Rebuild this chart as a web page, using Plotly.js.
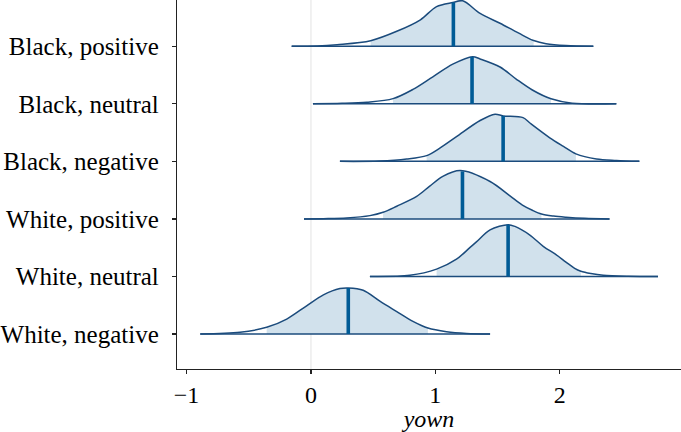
<!DOCTYPE html>
<html>
<head>
<meta charset="utf-8">
<script src="https://cdn.plot.ly/plotly-3.0.1.min.js"></script>
<style>html,body{margin:0;padding:0;background:#fff;}#chart{width:681px;height:432px;}</style>
</head>
<body>
<div id="chart"></div>
<script>
// Parameter names (top to bottom)
const categories = ["Black, positive", "Black, neutral", "Black, negative", "White, positive", "White, neutral", "White, negative"];

// Density curves (x grid and relative density heights) per parameter
const bpX = [-0.155, 0.05, 0.21, 0.48, 0.69, 0.88, 1.01, 1.14, 1.22, 1.36, 1.52, 1.625, 1.73, 1.79, 1.89, 2.05, 2.27];
const bpD = [0, 0.005, 0.028, 0.097, 0.26, 0.46, 0.69, 0.76, 0.79, 0.57, 0.40, 0.28, 0.16, 0.10, 0.045, 0.012, 0];
const bnX = [0.016, 0.25, 0.45, 0.66, 0.82, 0.98, 1.14, 1.30, 1.36, 1.52, 1.65, 1.78, 1.93, 2.10, 2.455];
const bnD = [0, 0.008, 0.028, 0.09, 0.25, 0.47, 0.69, 0.82, 0.78, 0.64, 0.43, 0.24, 0.087, 0.01, 0];
const bgX = [0.233, 0.55, 0.77, 0.93, 1.036, 1.17, 1.36, 1.48, 1.545, 1.705, 1.76, 1.92, 2.03, 2.13, 2.295, 2.455, 2.64];
const bgD = [0, 0.005, 0.04, 0.10, 0.23, 0.43, 0.71, 0.82, 0.79, 0.76, 0.667, 0.41, 0.26, 0.13, 0.04, 0.015, 0];
const wpX = [-0.056, 0.10, 0.287, 0.474, 0.58, 0.69, 0.85, 0.955, 1.06, 1.20, 1.44, 1.60, 1.70, 1.78, 1.853, 1.95, 2.05, 2.20, 2.40];
const wpD = [0, 0.005, 0.017, 0.057, 0.115, 0.22, 0.39, 0.57, 0.74, 0.84, 0.65, 0.40, 0.24, 0.15, 0.085, 0.05, 0.03, 0.01, 0];
const wnX = [0.474, 0.795, 1.01, 1.17, 1.277, 1.33, 1.44, 1.585, 1.64, 1.76, 1.87, 1.97, 2.05, 2.12, 2.17, 2.25, 2.35, 2.55, 2.79];
const wnD = [0, 0.02, 0.127, 0.30, 0.50, 0.60, 0.81, 0.90, 0.87, 0.72, 0.52, 0.38, 0.25, 0.14, 0.09, 0.05, 0.02, 0.004, 0];
const wgX = [-0.89, -0.57, -0.356, -0.195, -0.035, 0.10, 0.233, 0.30, 0.42, 0.554, 0.69, 0.82, 0.94, 1.09, 1.25, 1.44];
const wgD = [0, 0.03, 0.116, 0.26, 0.49, 0.68, 0.79, 0.80, 0.76, 0.57, 0.39, 0.22, 0.104, 0.04, 0.01, 0];

// Posterior medians and shaded interval bounds
const medians = [1.145, 1.295, 1.545, 1.218, 1.585, 0.30];
const intervalLo = [0.48, 0.66, 0.93, 0.58, 1.01, -0.356];
const intervalHi = [1.79, 1.93, 2.13, 1.853, 2.17, 0.94];

const xTicks = [-1, 0, 1, 2];

const curvesX = [bpX, bnX, bgX, wpX, wnX, wgX];
const curvesD = [bpD, bnD, bgD, wpD, wnD, wgD];

const FILL = "#d1e1ec", DARK = "#1b4b7c", MID = "#005b96";
const SM = 0.9;

function interp(xs, ys, x) {
  for (let i = 0; i < xs.length - 1; i++) {
    if (x >= xs[i] && x <= xs[i + 1]) {
      const t = (x - xs[i]) / (xs[i + 1] - xs[i]);
      return ys[i] + t * (ys[i + 1] - ys[i]);
    }
  }
  return 0;
}

const traces = [];
const n = categories.length;
categories.forEach((name, k) => {
  const base = n - k;
  const xs = curvesX[k], ds = curvesD[k];
  const lo = intervalLo[k], hi = intervalHi[k];
  traces.push({x: [lo, hi], y: [base, base], mode: "lines", line: {width: 0, color: FILL}, hoverinfo: "skip", showlegend: false});
  const fx = [], fy = [];
  xs.forEach((x, i) => { if (x >= lo - 1e-9 && x <= hi + 1e-9) { fx.push(x); fy.push(base + ds[i]); } });
  traces.push({x: fx, y: fy, mode: "lines", fill: "tonexty", fillcolor: FILL, line: {width: 0, color: FILL, shape: "spline", smoothing: SM}, hoverinfo: "skip", showlegend: false});
  traces.push({x: xs, y: ds.map(d => base + d), mode: "lines", line: {width: 1.5, color: DARK, shape: "spline", smoothing: SM}, hoverinfo: "skip", showlegend: false});
  traces.push({x: [xs[0], xs[xs.length - 1]], y: [base, base], mode: "lines", line: {width: 1.5, color: DARK}, hoverinfo: "skip", showlegend: false});
  const m = medians[k];
  traces.push({x: [m, m], y: [base, base + interp(xs, ds, m)], mode: "lines", line: {width: 3.6, color: MID}, hoverinfo: "skip", showlegend: false});
});

const FONT = "Liberation Serif";
const FS = 25;
const layout = {
  width: 681, height: 432,
  margin: {l: 177, r: 0, t: 0, b: 63},
  paper_bgcolor: "#fff", plot_bgcolor: "#fff",
  showlegend: false,
  font: {family: FONT, size: FS, color: "#000"},
  xaxis: {
    range: [-1.077, 2.975], tickvals: xTicks, ticktext: xTicks.map(v => v < 0 ? "\u2212" + Math.abs(v) : String(v)),
    showgrid: false, zeroline: false, showline: true, linecolor: "#222", linewidth: 1.2,
    ticks: "outside", ticklen: 4, tickcolor: "#222", tickwidth: 1.2,
    tickfont: {family: FONT, size: 24, color: "#000"},
    title: {text: "<i>yown</i>", font: {family: FONT, size: 24, color: "#000"}, standoff: 4}
  },
  yaxis: {
    range: [0.392, 6.804], tickvals: categories.map((c, k) => n - k), ticktext: categories,
    showgrid: false, zeroline: false, showline: true, linecolor: "#222", linewidth: 1.2,
    ticks: "outside", ticklen: 4, tickcolor: "#222", tickwidth: 1.2, ticklabelstandoff: 8,
    tickfont: {family: FONT, size: FS, color: "#000"}
  },
  shapes: [{type: "line", xref: "x", yref: "paper", x0: 0, x1: 0, y0: 0, y1: 1, line: {color: "#e3e3e3", width: 1}, layer: "below"}]
};

Plotly.newPlot("chart", traces, layout, {displayModeBar: false, staticPlot: true});
</script>
</body>
</html>
